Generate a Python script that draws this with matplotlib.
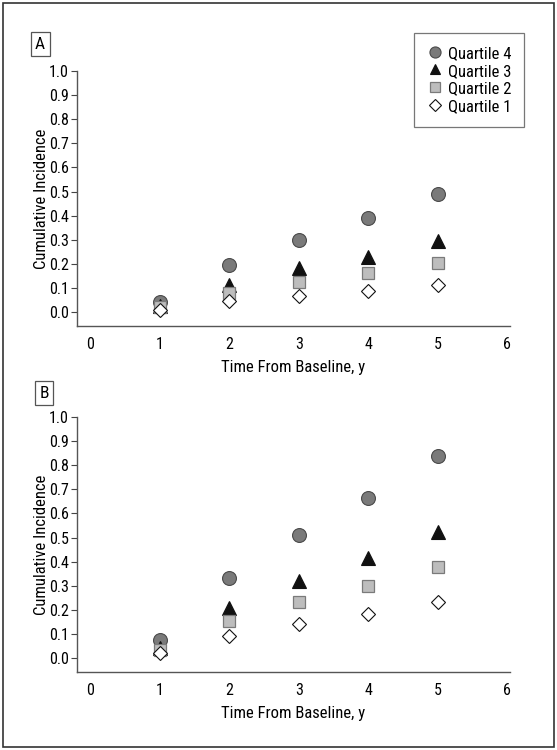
import matplotlib.pyplot as plt
import matplotlib.patches as patches

plt.rcParams['font.family'] = ['Roboto Condensed', 'Liberation Sans Narrow', 'Roboto', 'DejaVu Sans']

# ---- data ----
years = [1, 2, 3, 4, 5]
labels = ['Quartile 4', 'Quartile 3', 'Quartile 2', 'Quartile 1']

a_q4 = [0.042, 0.197, 0.300, 0.390, 0.490]
a_q3 = [0.025, 0.114, 0.182, 0.230, 0.293]
a_q2 = [0.022, 0.079, 0.126, 0.162, 0.205]
a_q1 = [0.007, 0.044, 0.067, 0.086, 0.112]

b_q4 = [0.076, 0.334, 0.510, 0.664, 0.838]
b_q3 = [0.040, 0.207, 0.318, 0.413, 0.521]
b_q2 = [0.035, 0.152, 0.232, 0.298, 0.376]
b_q1 = [0.019, 0.091, 0.141, 0.182, 0.233]

yticks = [0.0, 0.1, 0.2, 0.3, 0.4, 0.5, 0.6, 0.7, 0.8, 0.9, 1.0]
xticks = [0, 1, 2, 3, 4, 5, 6]

# ---- styles ----
styles = [
    dict(marker='o', ms=10, mfc='#7a7a7a', mec='#4a4a4a', mew=0.8),
    dict(marker='^', ms=9.5, mfc='#111111', mec='#111111', mew=0.8),
    dict(marker='s', ms=8.5, mfc='#bdbdbd', mec='#7a7a7a', mew=0.9),
    dict(marker='D', ms=7.2, mfc='white', mec='#111111', mew=0.8),
]

FS = 11
fig = plt.figure(figsize=(5.57, 7.50), dpi=100, facecolor='white')

# outer frame
fig.patches.append(patches.Rectangle((0.005, 0.004), 0.990, 0.992, transform=fig.transFigure,
                                     fill=False, edgecolor='#333333', linewidth=1.2))


def panel(rect, series, tag, tag_xy, legend=False):
    ax = fig.add_axes(rect)
    for vals, lab, st in zip(series, labels, styles):
        ax.plot(years, vals, linestyle='none', label=lab, **st)
    ax.set_xlim(-0.19, 6.04)
    ax.set_ylim(-0.058, 1.0)
    ax.set_xticks(xticks)
    ax.set_yticks(yticks)
    ax.set_yticklabels([f'{v:.1f}' for v in yticks])
    ax.tick_params(axis='x', length=0, pad=8, labelsize=FS + 0.5)
    ax.tick_params(axis='y', length=4, width=0.8, pad=2, labelsize=FS + 0.5, color='#444444')
    for s in ['top', 'right']:
        ax.spines[s].set_visible(False)
    for s in ['left', 'bottom']:
        ax.spines[s].set_color('#555555')
        ax.spines[s].set_linewidth(1.0)
    ax.set_xlabel('Time From Baseline, y', fontsize=FS + 1, labelpad=6)
    ax.set_ylabel('Cumulative Incidence', fontsize=FS + 1, labelpad=0)
    fig.text(tag_xy[0], tag_xy[1], tag, fontsize=FS + 1.5, ha='center', va='center',
             bbox=dict(boxstyle='square,pad=0.25', facecolor='white', edgecolor='#555555', linewidth=0.9))
    if legend:
        leg = fig.legend(loc='upper right', bbox_to_anchor=(0.941, 0.956), frameon=True,
                         fancybox=False, fontsize=FS + 1, handletextpad=0.3, markerscale=0.8,
                         handlelength=1.0, labelspacing=0.12, borderpad=0.75, borderaxespad=0,
                         handleheight=0.9)
        leg.get_frame().set_edgecolor('#555555')
        leg.get_frame().set_linewidth(0.9)
    return ax


panel([0.138, 0.5653, 0.778, 0.340], [a_q4, a_q3, a_q2, a_q1], 'A', (0.072, 0.941), legend=True)
panel([0.138, 0.104, 0.778, 0.340], [b_q4, b_q3, b_q2, b_q1], 'B', (0.079, 0.476))

plt.savefig('out.png', dpi=100, facecolor='white')
